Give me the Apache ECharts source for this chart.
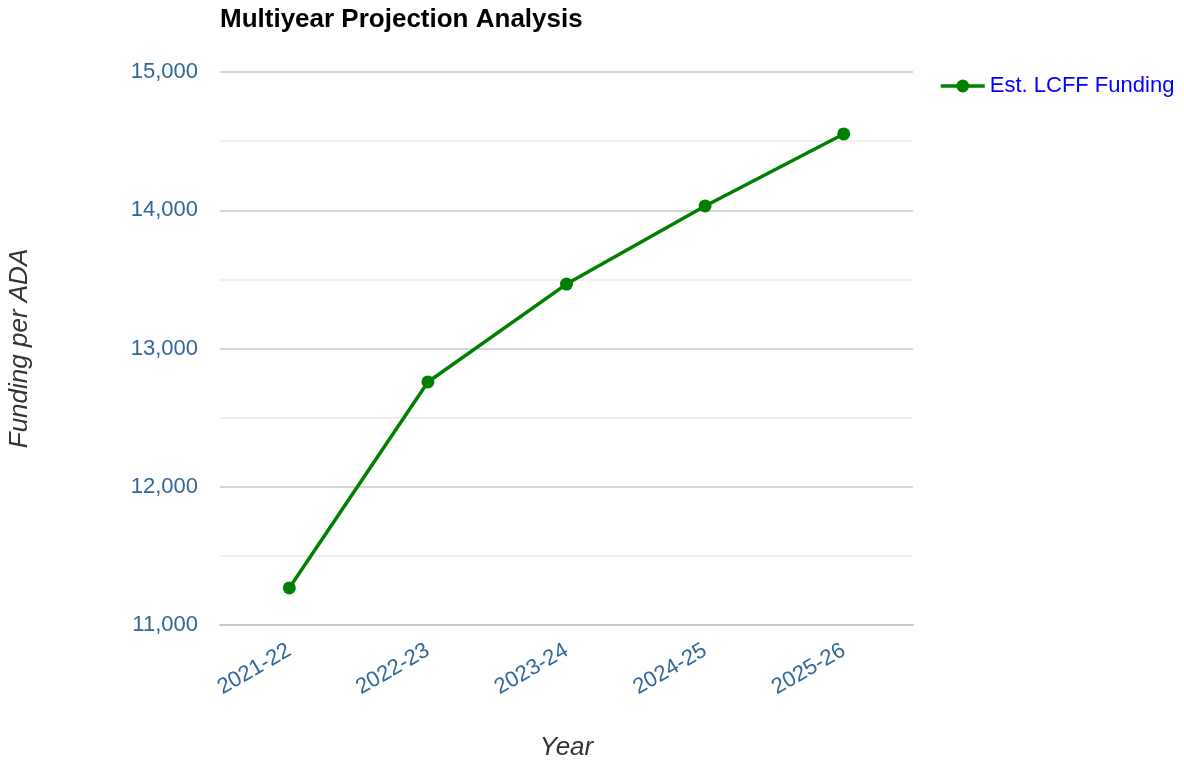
<!DOCTYPE html>
<html>
<head>
<meta charset="utf-8">
<script src="https://cdn.jsdelivr.net/npm/echarts@6/dist/echarts.min.js"></script>
<style>
  html, body { margin: 0; padding: 0; background: #fff; }
  #main { width: 1184px; height: 763px; }
</style>
</head>
<body>
<div id="main"></div>
<script>
// chart data
const years = ['2021-22', '2022-23', '2023-24', '2024-25', '2025-26'];
const lcffFunding = [11268, 12758, 13466, 14031, 14552];
const seriesName = 'Est. LCFF Funding';

const labelColor = '#336699';
const fontFamily = 'Liberation Sans, Arial, sans-serif';

const myChart = echarts.init(document.getElementById('main'));

const option = {
  backgroundColor: '#fff',
  textStyle: { fontFamily: fontFamily },
  title: {
    text: 'Multiyear Projection Analysis',
    left: 215,
    top: 2,
    textStyle: { fontSize: 26, fontWeight: 'bold', color: '#000', fontFamily: fontFamily }
  },
  legend: {
    data: [seriesName],
    left: 934,
    top: 70,
    itemWidth: 44,
    itemHeight: 16,
    itemGap: 8,
    lineStyle: { width: 3.5 },
    textStyle: { fontSize: 22, color: '#0000ff', fontFamily: fontFamily }
  },
  grid: {
    left: 220,
    right: 271,
    top: 72,
    bottom: 138,
    containLabel: false,
    outerBoundsMode: 'none'
  },
  xAxis: {
    type: 'category',
    data: years,
    boundaryGap: true,
    name: 'Year',
    nameLocation: 'middle',
    nameGap: 110,
    nameTextStyle: { fontSize: 26, fontStyle: 'italic', color: '#333', fontFamily: fontFamily },
    axisLine: { show: true, lineStyle: { color: '#c6c6c6', width: 2 } },
    axisTick: { show: false },
    axisLabel: { rotate: 30, fontSize: 22, color: labelColor, margin: 24 },
    splitLine: { show: false }
  },
  yAxis: {
    type: 'value',
    min: 11000,
    max: 15000,
    interval: 1000,
    name: 'Funding per ADA',
    nameLocation: 'middle',
    nameGap: 187,
    nameTextStyle: { fontSize: 26, fontStyle: 'italic', color: '#333', fontFamily: fontFamily },
    axisLine: { show: false },
    axisTick: { show: false },
    axisLabel: {
      fontSize: 22,
      color: labelColor,
      margin: 22,
      formatter: v => v.toLocaleString('en-US')
    },
    splitLine: { show: true, lineStyle: { color: '#c6c6c6', width: 1.5 } },
    minorTick: { show: false, splitNumber: 2 },
    minorSplitLine: { show: true, lineStyle: { color: '#ebebeb', width: 1.5 } }
  },
  series: [
    {
      name: seriesName,
      type: 'line',
      data: lcffFunding,
      symbol: 'circle',
      symbolSize: 13,
      itemStyle: { color: '#008000' },
      lineStyle: { color: '#008000', width: 3.5 }
    }
  ]
};

myChart.setOption(option);
</script>
</body>
</html>
